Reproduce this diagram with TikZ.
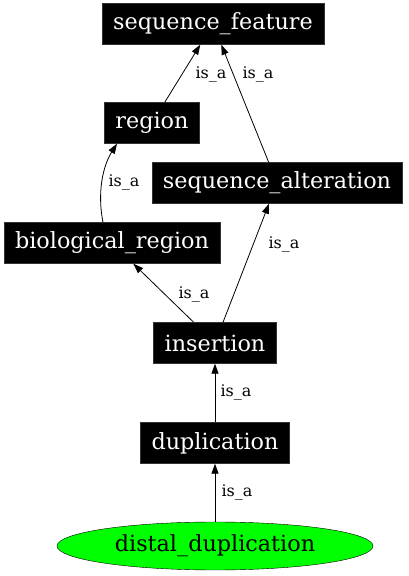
\documentclass[tikz,border=0pt]{standalone}
\usepackage{fontspec}
\setmainfont{DejaVu Serif}
\usepackage{xcolor}
\definecolor{TermFill}{RGB}{0,0,0}
\definecolor{LeafFill}{RGB}{0,255,0}
\definecolor{EdgeColor}{RGB}{0,0,0}
\usepackage{tikz}
\usetikzlibrary{
  positioning,
  arrows.meta,
  shapes.geometric
}
\tikzset{
  % Ontology term (black box)
  term/.style={
    rectangle,
    draw=TermFill!80!white,
    fill=TermFill,
    text=white,
    minimum height=41pt,
    inner xsep=11pt,
    font=\fontsize{22.3}{24}\selectfont
  },
  % Leaf term (green ellipse)
  leafterm/.style={
    ellipse,
    draw=black,
    fill=LeafFill,
    minimum width=316pt,
    minimum height=48pt,
    inner sep=0pt,
    font=\fontsize{22.3}{24}\selectfont
  },
  % is_a edge
  isa/.style={
    draw=EdgeColor,
    line width=0.8pt,
    -{Triangle[length=10pt,width=7pt]}
  },
  % Edge label
  elabel/.style={
    font=\fontsize{16}{18}\selectfont,
    inner sep=0pt
  }
}
\begin{document}
\begin{tikzpicture}[x=1pt,y=1pt]
  \useasboundingbox (0,0) rectangle (409,576);
  % Terms
  \node[term] (seqfeature) at (213,552) {sequence\_feature};
  \node[term] (region) at (152,453) {region};
  \node[term] (seqalteration) at (277,393) {sequence\_alteration};
  \node[term] (bioregion) at (112,333) {biological\_region};
  \node[term] (insertion) at (215,233) {insertion};
  \node[term] (duplication) at (215,133) {duplication};
  \node[leafterm] (distaldup) at (215,30) {distal\_duplication};
  % is_a edges
  \draw[isa] (region) -- (seqfeature);
  \draw[isa] (seqalteration) -- (seqfeature);
  \draw[isa] ([xshift=-9pt]bioregion.north) .. controls +(-6,30) and +(-14,-22) .. ([xshift=-35pt]region.south);
  \draw[isa] (insertion) -- (bioregion);
  \draw[isa] (insertion) -- (seqalteration);
  \draw[isa] (duplication) -- (insertion);
  \draw[isa] (distaldup) -- (duplication);
  % Edge labels
  \node[elabel] (l1) at (211,501) {is\_a};
  \node[elabel] (l2) at (258,501) {is\_a};
  \node[elabel] (l3) at (124,393) {is\_a};
  \node[elabel] (l4) at (194,281) {is\_a};
  \node[elabel] (l5) at (284,331) {is\_a};
  \node[elabel] (l6) at (236,183) {is\_a};
  \node[elabel] (l7) at (237,83) {is\_a};
\end{tikzpicture}
\end{document}
